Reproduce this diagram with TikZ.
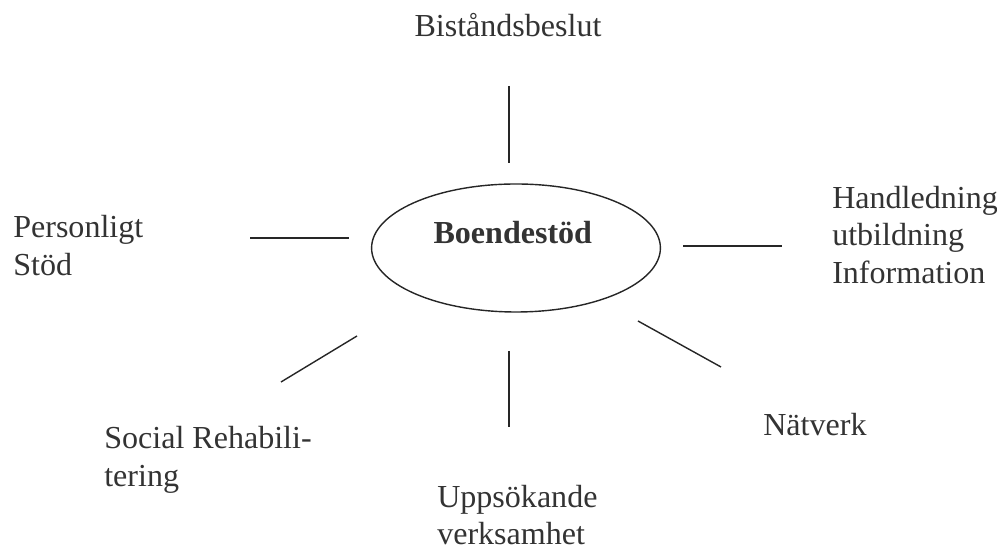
\documentclass[tikz,border=0pt]{standalone}
\usepackage{fontspec}
\setmainfont{Liberation Serif}
\usetikzlibrary{shapes.geometric}
\begin{document}
\begin{tikzpicture}[every node/.style={font=\fontsize{22.8}{26.7}\selectfont, inner sep=0pt, text=black!80}]
			\useasboundingbox (0,0) rectangle (24.925,13.775);
			\node[draw=black!85,ellipse,line width=1pt,minimum width=7.22cm,minimum height=3.2cm] (hub) at (12.9,7.575) {};
			\node[font=\fontsize{22.8}{26.7}\selectfont\bfseries] (hubtext) at (12.82,7.95) {Boendestöd};
			
			\node (beslut) at (12.7,13.15)  {Biståndsbeslut};
			\node[anchor=west,align=left] (stod) at (0.325,7.64)  {Personligt\\Stöd};
			\node[anchor=west,align=left] (handl) at (20.8,7.91)  {Handledning\\utbildning\\Information};
			\node[anchor=west,align=left] (rehab) at (2.6,2.28)  {Social Rehabili-\\tering};
			\node[anchor=west,align=left] (uppsok) at (10.925,0.9)  {Uppsökande\\verksamhet};
			\node[anchor=west] (natverk) at (19.075,3.15)  {Nätverk};
			
			\coordinate (t1) at (12.725,11.625);  \coordinate (t2) at (12.725,9.7);
			\coordinate (l1) at (6.25,7.825);     \coordinate (l2) at (8.725,7.825);
			\coordinate (r1) at (17.075,7.625);   \coordinate (r2) at (19.55,7.625);
			\coordinate (sl1) at (8.925,5.375);   \coordinate (sl2) at (7.025,4.225);
			\coordinate (b1) at (12.725,5.0);     \coordinate (b2) at (12.725,3.1);
			\coordinate (sr1) at (15.95,5.75);    \coordinate (sr2) at (18.025,4.6);
			
			\def\spokes {t1/t2, l1/l2, r1/r2, sl1/sl2, b1/b2, sr1/sr2}  % list elements
			\foreach \u\v in \spokes
			{	\draw[line width=1pt, black!85] (\u) -- (\v);
			}
		\end{tikzpicture}
\end{document}
